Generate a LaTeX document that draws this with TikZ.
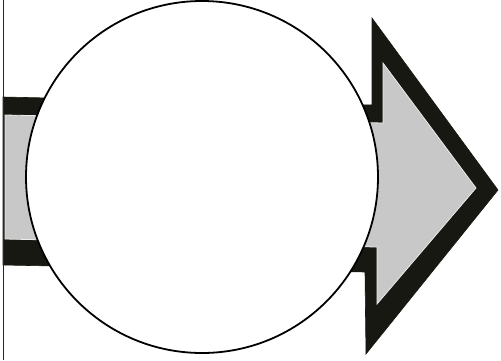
\documentclass[tikz,border=0pt]{standalone}
\usetikzlibrary{calc}
\definecolor{inkblack}{RGB}{24,24,18}
\definecolor{stipple}{RGB}{200,200,200}
\tikzset{
  outerband/.style={fill=inkblack, draw=inkblack, line width=0.6pt, line join=miter},
  innerfill/.style={fill=stipple, draw=white!85!gray, line width=0.8pt, line join=miter},
  bigcircle/.style={fill=white, draw=black, line width=1.8pt},
  leftrule/.style={draw=black!85, line width=1.8pt}
}
\begin{document}
\begin{tikzpicture}[x=1pt,y=-1pt]
  \useasboundingbox (0,0) rectangle (501,360);
  % vertical rule at left
  \coordinate (ruleTop) at (3.5,0);
  \coordinate (ruleBot) at (3.5,360);
  % outer black arrow
  \coordinate (o1) at (3,97);
  \coordinate (o2) at (372,105);
  \coordinate (o3) at (372,18);
  \coordinate (o4) at (498,190);
  \coordinate (o5) at (366,354);
  \coordinate (o6) at (365,272);
  \coordinate (o7) at (3,265);
  \fill[outerband] (o1) -- (o2) -- (o3) -- (o4) -- (o5) -- (o6) -- (o7) -- cycle;
  % inner stippled fill
  \coordinate (i1) at (5,115);
  \coordinate (i2) at (383,123);
  \coordinate (i3) at (383,63);
  \coordinate (i4) at (476,188);
  \coordinate (i5) at (377,304);
  \coordinate (i6) at (377,247);
  \coordinate (i7) at (5,239);
  \filldraw[innerfill] (i1) -- (i2) -- (i3) -- (i4) -- (i5) -- (i6) -- (i7) -- cycle;
  \draw[leftrule] (ruleTop) -- (ruleBot);
  % big circle
  \node[bigcircle, circle, minimum size=352pt, inner sep=0pt] (disc) at (202,177) {};
\end{tikzpicture}
\end{document}
